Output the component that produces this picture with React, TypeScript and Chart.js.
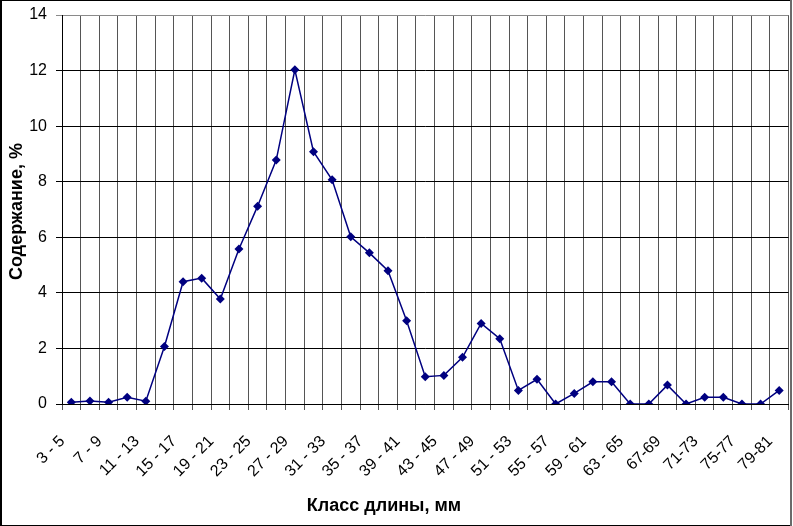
import React, { useEffect, useRef } from "react";
import { Chart, registerables } from "chart.js";

Chart.register(...registerables);

const categories: string[] = [
  "3 - 5", "5 - 7", "7 - 9", "9 - 11", "11 - 13", "13 - 15", "15 - 17", "17 - 19",
  "19 - 21", "21 - 23", "23 - 25", "25 - 27", "27 - 29", "29 - 31", "31 - 33", "33 - 35",
  "35 - 37", "37 - 39", "39 - 41", "41 - 43", "43 - 45", "45 - 47", "47 - 49", "49 - 51",
  "51 - 53", "53 - 55", "55 - 57", "57 - 59", "59 - 61", "61 - 63", "63 - 65", "65-67",
  "67-69", "69-71", "71-73", "73-75", "75-77", "77-79", "79-81",
];

const content: number[] = [
  0.06, 0.11, 0.06, 0.24, 0.1, 2.07, 4.4, 4.53, 3.78, 5.58, 7.12, 8.78, 12.03,
  9.08, 8.07, 6.02, 5.44, 4.8, 3.0, 0.98, 1.03, 1.68, 2.9, 2.35, 0.49, 0.89,
  0.0, 0.38, 0.8, 0.8, 0.0, 0.0, 0.68, 0.0, 0.24, 0.24, 0.0, 0.0, 0.49,
];

const yTicks: number[] = [0, 2, 4, 6, 8, 10, 12, 14];

const xTitle = "Класс длины, мм";
const yTitle = "Содержание, %";

const FONT = '"Liberation Sans", Arial, sans-serif';

export default function App() {
  const ref = useRef<HTMLCanvasElement | null>(null);

  useEffect(() => {
    if (!ref.current) return;
    const decor = {
      id: "decor",
      afterDraw(chart: any) {
        const c = chart.ctx as CanvasRenderingContext2D;
        const W = chart.width;
        const H = chart.height;
        c.save();
        c.fillStyle = "#000";
        c.font = `bold 18px ${FONT}`;
        c.textAlign = "center";
        c.textBaseline = "middle";
        c.fillText(xTitle, 384, H - 20);
        c.save();
        c.translate(17, (chart.chartArea.top + chart.chartArea.bottom) / 2 + 2);
        c.rotate(-Math.PI / 2);
        c.fillText(yTitle, 0, 0);
        c.restore();
        // outer frame
        c.fillStyle = "#000";
        c.fillRect(0, 0, 2, H);
        c.fillRect(0, 0, W - 2, 1);
        c.fillRect(0, H - 1, W - 2, 1);
        c.fillStyle = "#6a6a6a";
        c.fillRect(W - 3, 0, 2, H);
        c.restore();
      },
    };

    const chart = new Chart(ref.current, {
      type: "line",
      data: {
        labels: categories,
        datasets: [
          {
            data: content,
            borderColor: "#000080",
            backgroundColor: "#000080",
            borderWidth: 1.5,
            pointStyle: "rectRot",
            pointRadius: 4.5,
            pointBorderWidth: 0,
            pointBackgroundColor: "#000080",
            tension: 0,
            fill: false,
          },
        ],
      },
      options: {
        responsive: false,
        animation: false,
        layout: { padding: { left: 0, top: 15, right: 0, bottom: 0 } },
        plugins: {
          legend: { display: false },
          tooltip: { enabled: false },
          title: { display: false },
        },
        scales: {
          x: {
            type: "category",
            offset: true,
            grid: {
              offset: true,
              color: "#555",
              lineWidth: 1,
              tickLength: 6,
            },
            border: { color: "#000", width: 1 },
            ticks: {
              autoSkip: false,
              maxRotation: 45,
              minRotation: 45,
              padding: 22,
              labelOffset: -9,
              color: "#000",
              font: { family: FONT, size: 16 },
              callback: (_v: any, i: number) => (i % 2 === 0 ? categories[i] : ""),
            },
            afterFit: (s: any) => {
              s.height = 122;
              s.paddingLeft = 0;
              s.paddingRight = 0;
            },
          },
          y: {
            min: 0,
            max: 14,
            afterBuildTicks: (s: any) => {
              s.ticks = yTicks.map((v) => ({ value: v }));
            },
            grid: {
              color: (ctx: any) => (ctx.tick && ctx.tick.value === 14 ? "#8a8a8a" : "#000"),
              lineWidth: 1,
              tickLength: 6,
            },
            border: { color: "#000", width: 1 },
            ticks: {
              padding: 9,
              color: "#000",
              font: { family: FONT, size: 16 },
            },
            afterFit: (s: any) => {
              s.width = 62;
              s.paddingTop = 0;
              s.paddingBottom = 0;
            },
          },
        },
      },
      plugins: [decor],
    } as any);

    return () => chart.destroy();
  }, []);

  return (
    <div style={{ position: "absolute", left: 0, top: 0, width: 793, height: 526, background: "#fff" }}>
      <canvas ref={ref} width={793} height={526} style={{ display: "block", width: 793, height: 526 }} />
    </div>
  );
}
